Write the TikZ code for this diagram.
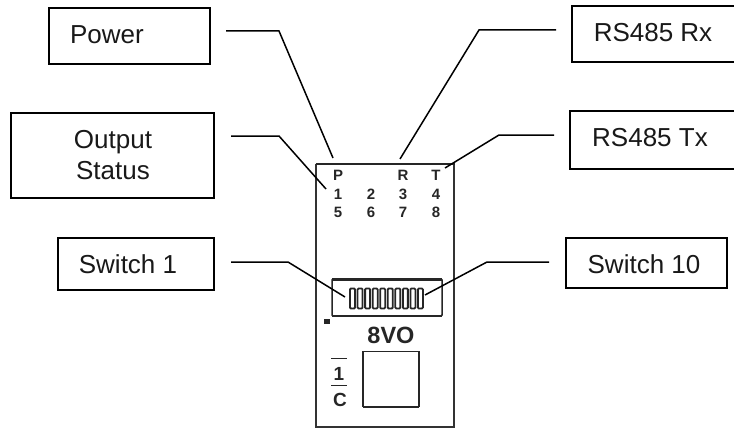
\documentclass[tikz,border=0pt]{standalone}
\usepackage{fontspec}
\setmainfont{Liberation Sans}
\begin{document}
\begin{tikzpicture}[x=1pt,y=-1pt,
  lab/.style={draw=black,line width=1.5pt,fill=white,inner sep=0pt},
  labt/.style={font=\fontsize{26}{31}\selectfont,inner sep=0pt,align=center,text=black!90},
  lead/.style={draw=black,line width=1.5pt,line join=miter},
  chip/.style={font=\bfseries\fontsize{15}{15}\selectfont,inner sep=0pt,text=black!85},
  wall/.style={draw=black!80,line width=1.5pt},
  dip/.style={draw=black!85,line width=1.8pt,fill=white,rounded corners=1pt,minimum width=5pt,minimum height=20pt,inner sep=0pt}]
\useasboundingbox (0,0) rectangle (734,428);
\node[lab,minimum width=161pt,minimum height=56pt] (power) at (129.5,36) {};
\node[labt] (powert) at (107,35) {Power};
\node[lab,minimum width=203pt,minimum height=85pt] (output) at (112.5,155.5) {};
\node[labt] (outputt) at (113,155) {Output\\Status};
\node[lab,minimum width=156pt,minimum height=52pt] (sw1) at (136,264) {};
\node[labt] (sw1t) at (128,264) {Switch 1};
\node[lab,minimum width=170pt,minimum height=56pt] (rx) at (657,34) {};
\node[labt] (rxt) at (653,33) {RS485 Rx};
\node[lab,minimum width=172pt,minimum height=58pt] (tx) at (656,140) {};
\node[labt] (txt) at (650,138) {RS485 Tx};
\node[lab,minimum width=161pt,minimum height=50pt] (sw10) at (646.5,263) {};
\node[labt] (sw10t) at (644,264) {Switch 10};
% device
\draw[wall] (316,164) -- (316,427) -- (454,427) -- (454,164);
\draw[draw=black!85,line width=2.4pt] (315.5,164) -- (454.5,164);
\foreach \n/\t/\x/\y in {p/P/338/175,r/R/403/175,t/T/436/175,a/1/338/194,b/2/371/194,c/3/403/194,d/4/436/194,e/5/338/212,f/6/371/212,g/7/403/212,h/8/436/212}
  \node[chip] (\n) at (\x,\y) {\t};
% dip switch
\draw[draw=black!85,line width=1.5pt,rounded corners=1pt] (332,279) rectangle (442,316);
\draw[draw=black!85,line width=2.4pt] (332,279.5) -- (442,279.5) (332,316) -- (442,316);
\foreach \i in {0,...,9}
  \node[dip] (s\i) at ({352.5+\i*7.55},298.5) {};
\fill[black!85] (324,319) rectangle (330,324);
\node[font=\bfseries\fontsize{23.5}{23.5}\selectfont,inner sep=0pt,text=black!85] (vo) at (391,335) {8VO};
\node[draw=black!85,line width=1.6pt,minimum width=56pt,minimum height=55pt,inner sep=0pt] (btn) at (391,379) {};
\draw[draw=black!85,line width=2.4pt] (363,407) -- (419,407);
\draw[draw=black!85,line width=1.5pt] (331,358.5) -- (347,358.5) (331,385.5) -- (347,385.5);
\node[font=\bfseries\fontsize{19}{19}\selectfont,inner sep=0pt,text=black!85] (one) at (339,374) {1};
\node[font=\bfseries\fontsize{19}{19}\selectfont,inner sep=0pt,text=black!85] (cc) at (340,400) {C};
% leaders
\coordinate (lp) at (226,31); \coordinate (lo) at (231,136); \coordinate (ls) at (231,262);
\coordinate (lr) at (556,30); \coordinate (lt) at (554,135); \coordinate (lw) at (549,262);
\coordinate (ep) at (333,158); \coordinate (eo) at (326,189); \coordinate (es) at (345,297);
\coordinate (er) at (400,159); \coordinate (et) at (445,168); \coordinate (ew) at (425,295);
\draw[lead] (lp) -- (279,31) -- (ep);
\draw[lead] (lo) -- (279,136) -- (eo);
\draw[lead] (ls) -- (288,262) -- (es);
\draw[lead] (lr) -- (479,30) -- (er);
\draw[lead] (lt) -- (499,135) -- (et);
\draw[lead] (lw) -- (487,262) -- (ew);
\end{tikzpicture}
\end{document}
